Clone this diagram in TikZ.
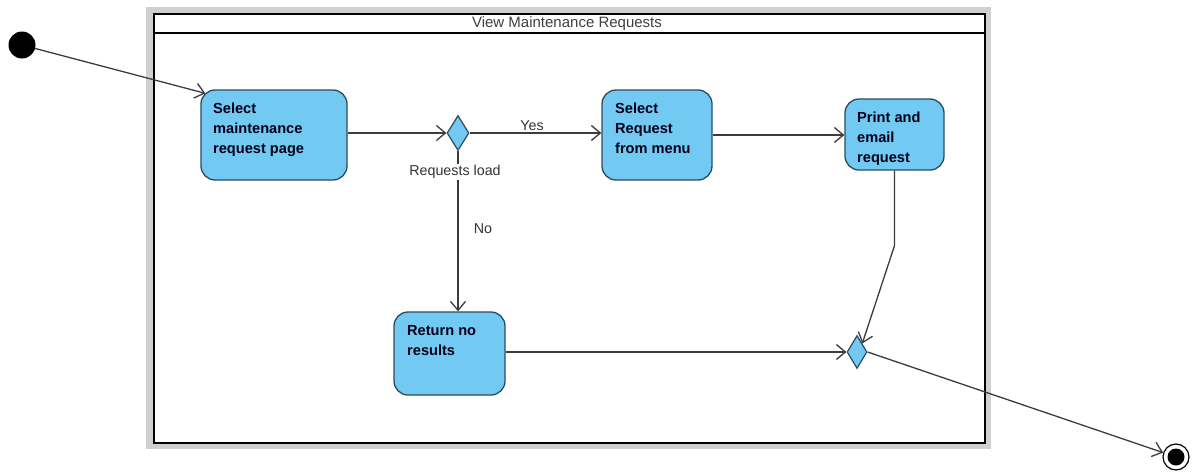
\documentclass[tikz,border=0pt]{standalone}
\usepackage{fontspec}
\setmainfont{Liberation Sans}
\usetikzlibrary{arrows.meta,shapes.geometric,calc}
\definecolor{actfill}{RGB}{114,201,242}
\definecolor{actline}{RGB}{45,75,95}
\definecolor{framegray}{RGB}{208,208,208}
\definecolor{flowline}{RGB}{60,60,60}
\begin{document}
\begin{tikzpicture}[x=1pt,y=-1pt,
  act/.style={draw=actline, fill=actfill, rounded corners=14pt, line width=1.3pt, inner sep=0pt},
  acttext/.style={anchor=north west, align=left, inner sep=0pt,
    font=\fontsize{14.6}{20}\selectfont\bfseries, text=black!90!blue},
  decision/.style={diamond, draw=actline, fill=actfill, line width=1.2pt, inner sep=0pt},
  flow/.style={draw=flowline, line width=1.3pt, -{Straight Barb[length=9pt,width=15pt,line width=1.3pt]}},
  lbl/.style={font=\fontsize{14.3}{16}\selectfont, text=black!80, inner sep=1pt}]
\useasboundingbox (0,0) rectangle (1195,474);

% activity frame
\fill[framegray] (146,7) rectangle (991,449);
\draw[fill=white, line width=2.4pt] (154,14) rectangle (985,443);
\draw[line width=2.4pt] (154,33) -- (985,33);
\node[lbl, text=black!75, font=\fontsize{15}{16}\selectfont] (title) at (567,24) {View Maintenance Requests};

% initial and final nodes
\node[circle, fill=black, minimum size=27pt, inner sep=0pt] (start) at (22,45) {};
\node[circle, draw=black, line width=1.2pt, fill=white, minimum size=26pt, inner sep=0pt] (end) at (1176,457) {};
\node[circle, fill=black, minimum size=17pt, inner sep=0pt] (endDot) at (1176,457) {};

% actions
\node[act, minimum width=146pt, minimum height=90pt] (sel) at (274,135) {};
\node[acttext] (selT) at (213,103) {Select\\maintenance\\request page};

\node[act, minimum width=110pt, minimum height=90pt] (req) at (657,135) {};
\node[acttext] (reqT) at (615,103) {Select\\Request\\from menu};

\node[act, minimum width=99pt, minimum height=71pt] (print) at (894.5,134.5) {};
\node[acttext] (printT) at (857,112) {Print and\\email\\request};

\node[act, minimum width=111pt, minimum height=83pt] (ret) at (449.5,353.5) {};
\node[acttext] (retT) at (407,325) {Return no\\results};

% decisions / merges
\node[decision, minimum width=22pt, minimum height=35pt] (d1) at (458,133) {};
\node[decision, minimum width=20pt, minimum height=33pt] (d2) at (857,352) {};

% control flows
\draw[flow] (start) -- ($(sel.north west)+(5,4)$);
\draw[flow] (sel.east |- d1.west) -- (d1.west);
\draw[flow] (d1.east) -- (d1.east -| req.west);
\node[lbl] (yes) at (532,126) {Yes};
\draw[flow] (req.east |- 0,135) -- (print.west |- 0,135);
\draw[flow] (d1.south) -- (d1.south |- ret.north);
\node[lbl, fill=white] (load) at (455,172) {Requests load};
\node[lbl] (no) at (483,229) {No};
\draw[flow] (ret.east |- d2.west) -- (d2.west);
\draw[flow] (print.south) -- ++(0,75) -- (d2.north east);
\draw[flow] (d2.east) -- (end);
\end{tikzpicture}
\end{document}
